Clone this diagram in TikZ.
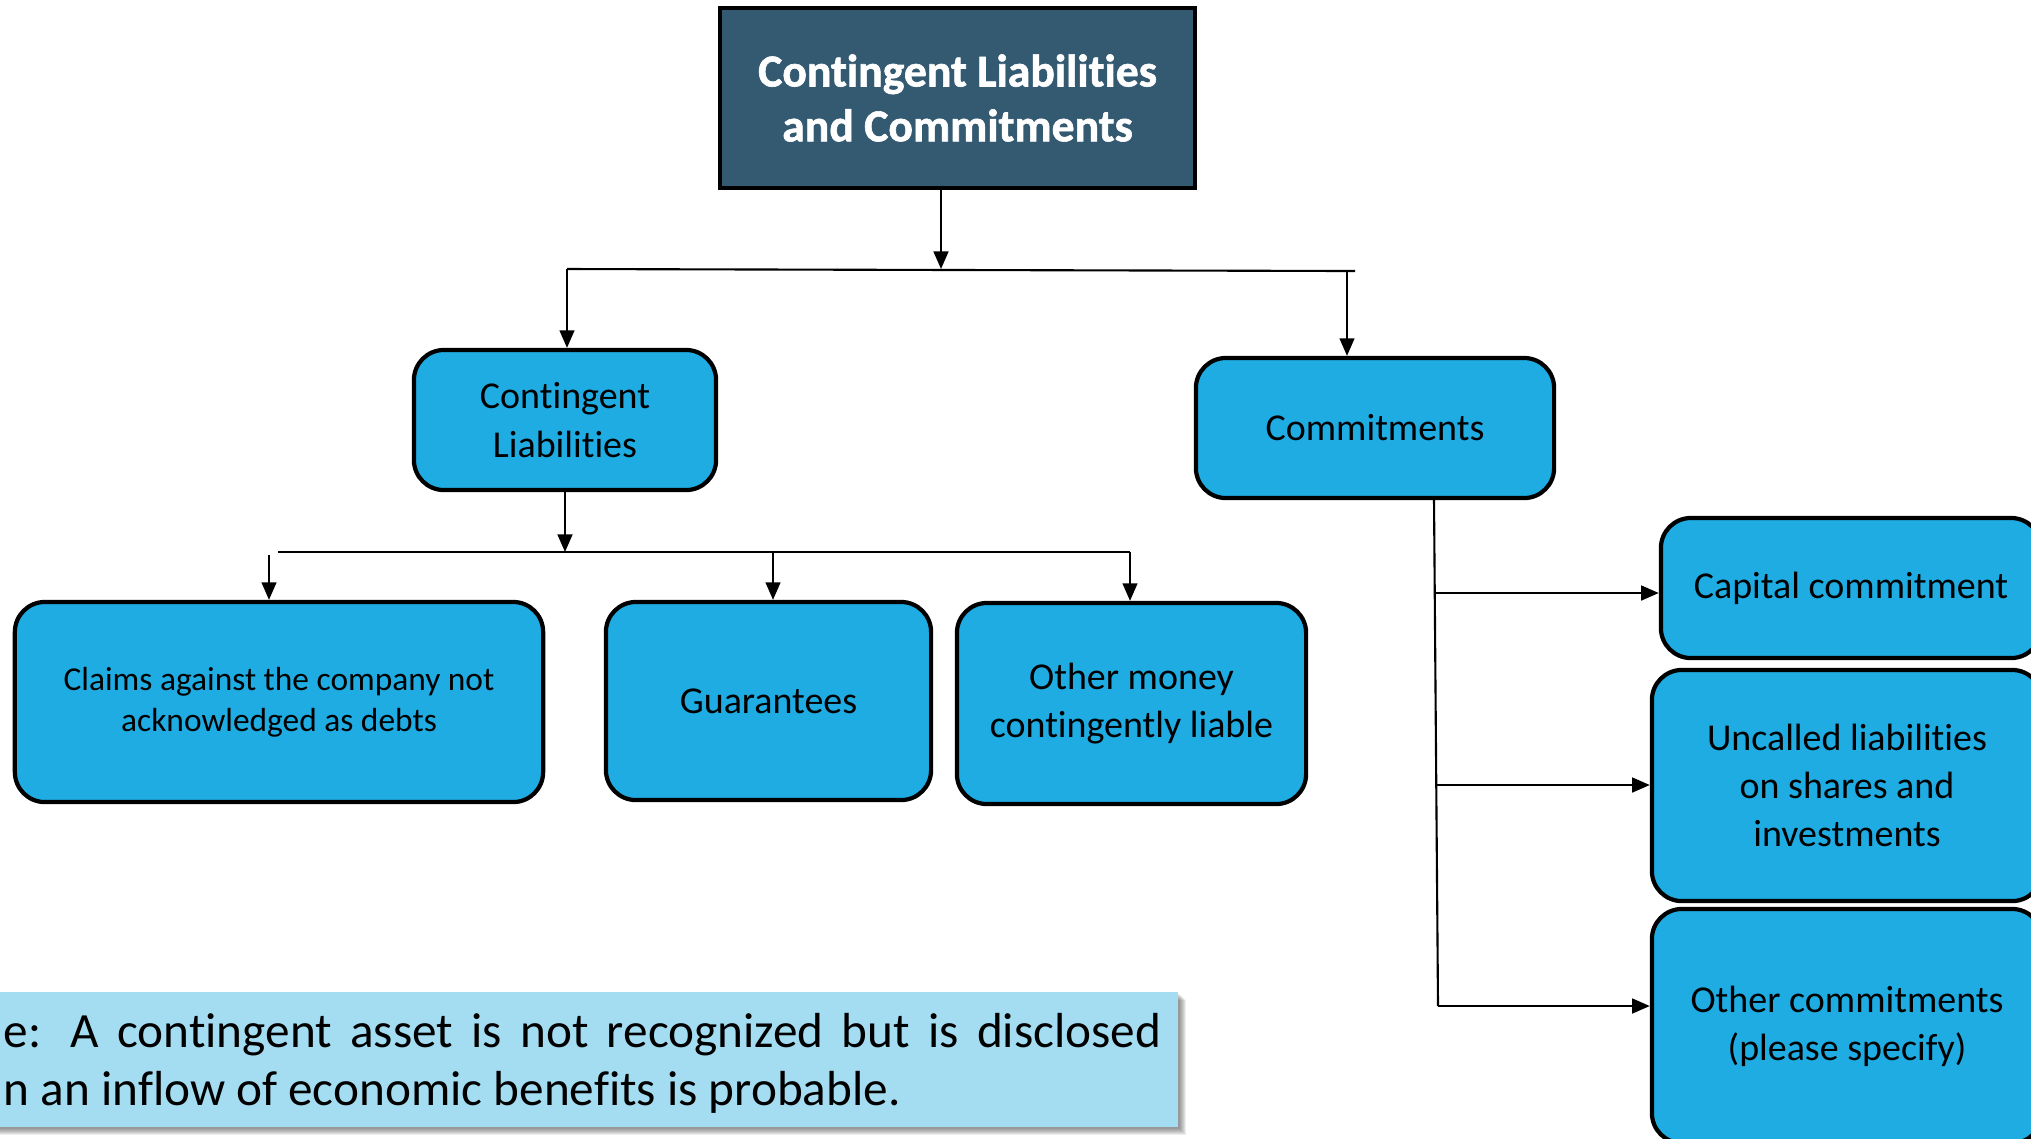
\documentclass[tikz,border=0pt]{standalone}
\usepackage{fontspec}
\setmainfont{Carlito}[Ligatures=NoCommon]
\newfontfamily\titlefont{Carlito}[Ligatures=NoCommon, BoldFeatures={FakeBold=1.3}]
\usetikzlibrary{arrows.meta}
\definecolor{titlefill}{RGB}{52,90,114}
\definecolor{boxfill}{RGB}{30,172,227}
\definecolor{notefill}{RGB}{164,221,242}
\tikzset{
  box/.style={draw=black, line width=1.2pt, fill=boxfill, rounded corners=0.3cm,
    align=center, inner sep=0pt, font=\fontsize{10.8}{13.7}\selectfont},
  titlebox/.style={draw=black, line width=1.1pt, fill=titlefill, text=white,
    align=center, inner sep=0pt, font=\fontsize{13}{15.6}\selectfont\titlefont\bfseries},
  conn/.style={line width=0.6pt},
  arr/.style={conn, -{Triangle[length=5pt,width=4.2pt]}},
}
\begin{document}
\begin{tikzpicture}[x=0.01cm,y=-0.01cm]
\path[use as bounding box] (0,0) rectangle (2031,1138);
\clip (0,0) rectangle (2031,1138);

% boxes
\node[titlebox, minimum width=4.75cm, minimum height=1.8cm] (top) at (957.5,98)
  {Contingent Liabilities\\and Commitments};
\node[box, minimum width=3.02cm, minimum height=1.4cm] (cl) at (565,420)
  {Contingent\\Liabilities};
\node[box, minimum width=3.58cm, minimum height=1.4cm] (com) at (1375,428)
  {Commitments};
\node[box, minimum width=5.28cm, minimum height=2.0cm,
  font=\fontsize{9.5}{11.7}\selectfont] (claims) at (279,702)
  {Claims against the company not\\acknowledged as debts};
\node[box, minimum width=3.25cm, minimum height=1.98cm] (guar) at (768.5,701)
  {Guarantees};
\node[box, minimum width=3.49cm, minimum height=2.01cm] (money) at (1131.5,703.5)
  {Other money\\contingently liable};
\node[box, minimum width=3.8cm, minimum height=1.4cm] (cap) at (1851,588)
  {Capital commitment};
\node[box, minimum width=3.9cm, minimum height=2.31cm] (unc) at (1847,785.5)
  {Uncalled liabilities\\on shares and\\investments};
\node[box, minimum width=3.9cm, minimum height=2.34cm] (oth) at (1847,1026)
  {Other commitments\\(please specify)};

% first level bus
\coordinate (b1l) at (567,269);
\coordinate (b1m) at (941,269);
\coordinate (b1r) at (1347,271);
\coordinate (b1e) at (1355,271);
\draw[conn] (b1l) -- (b1e);
\draw[arr] (top.south -| b1m) -- (b1m);
\draw[arr] (b1l) -- (b1l |- cl.north);
\draw[arr] (b1r) -- (b1r |- com.north);

% second level bus
\coordinate (b2l) at (278,552);
\coordinate (b2r) at (1130,552);
\coordinate (c1) at (269,555);
\coordinate (c2) at (773,552);
\draw[conn] (b2l) -- (b2r);
\draw[arr] (cl.south) -- (cl.south |- b2l);
\draw[arr] (c1) -- (c1 |- claims.north);
\draw[arr] (c2) -- (c2 |- guar.north);
\draw[arr] (b2r) -- (b2r |- money.north);

% commitments spine
\coordinate (s1) at (1434,593);
\coordinate (s2) at (1436,785);
\coordinate (s3) at (1438,1006);
\draw[conn] (s1 |- com.south) -- (s3);
\draw[arr] (s1) -- (s1 -| cap.west);
\draw[arr] (s2) -- (s2 -| unc.west);
\draw[arr] (s3) -- (s3 -| oth.west);

% note panel with soft shadow
\foreach \o in {2,3,...,8}
  \fill[black, opacity=0.07] (-20+\o,992+\o) rectangle (1178+\o,1127+\o);
\node[fill=notefill, inner sep=0pt, minimum width=11.98cm, minimum height=1.35cm]
  (note) at (579,1059.5) {};
\node[text width=11.57cm, align=justify, inner sep=0pt,
  font=\fontsize{14}{16.5}\selectfont] (notetext) at (582.5,1063)
  {e: A contingent asset is not recognized but is disclosed\linebreak
   n an inflow of economic benefits is probable.};
\end{tikzpicture}
\end{document}
